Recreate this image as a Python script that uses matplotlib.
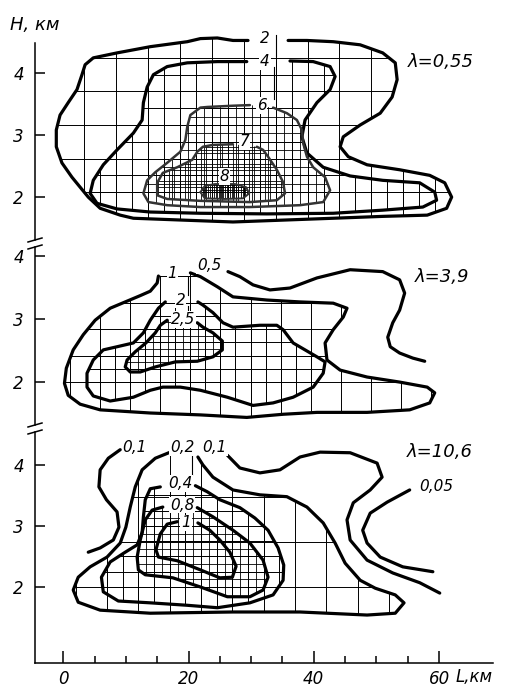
import numpy as np
import matplotlib.pyplot as plt
from matplotlib.patches import Polygon

plt.rcParams['font.family'] = 'DejaVu Sans'
plt.rcParams['font.style'] = 'italic'

# contour lines, (L km, H km)
# panel 1, lambda = 0.55
p1_c2 = [(29.5, 4.52), (27.1, 4.52), (24.6, 4.56), (21.9, 4.55), (19.8, 4.50), (13.9, 4.42),
         (8.6, 4.32), (4.8, 4.24), (3.5, 4.13), (3.0, 3.97), (2.2, 3.73), (0.8, 3.52),
         (-0.5, 3.32), (-1.1, 3.08), (-1.1, 2.81), (-0.2, 2.55), (1.4, 2.32), (2.7, 2.16),
         (4.0, 2.00), (5.9, 1.82), (9.1, 1.71), (11.2, 1.66), (19.1, 1.63), (27.1, 1.60),
         (35.1, 1.63), (43.1, 1.66), (51.0, 1.69), (58.1, 1.71), (61.2, 1.82), (62.0, 2.00),
         (60.9, 2.23), (58.5, 2.35), (53.7, 2.44), (48.5, 2.52), (45.5, 2.65), (44.2, 2.81),
         (44.7, 2.97), (47.4, 3.16), (50.6, 3.35), (52.5, 3.61), (53.3, 3.89), (53.0, 4.16),
         (51.0, 4.32), (47.4, 4.45), (43.1, 4.50), (38.9, 4.52), (35.9, 4.52)]
p1_c4 = [(29.3, 4.18), (24.6, 4.18), (19.8, 4.16), (16.6, 4.10), (14.4, 3.97), (13.4, 3.77),
         (12.8, 3.52), (12.6, 3.24), (11.2, 3.03), (8.6, 2.76), (6.4, 2.52), (4.8, 2.27),
         (4.3, 2.06), (5.4, 1.90), (8.6, 1.81), (13.9, 1.76), (21.9, 1.74), (32.5, 1.73),
         (43.1, 1.74), (51.0, 1.79), (57.4, 1.84), (59.6, 1.95), (59.3, 2.08), (56.9, 2.23),
         (51.0, 2.27), (45.8, 2.34), (41.5, 2.48), (38.9, 2.71), (38.1, 2.97), (38.6, 3.24),
         (40.5, 3.52), (42.6, 3.73), (43.4, 3.94), (42.6, 4.10), (39.9, 4.18), (36.2, 4.19)]
p1_c6 = [(29.8, 3.48), (27.1, 3.47), (23.0, 3.45), (21.9, 3.44), (20.3, 3.32), (19.8, 3.13),
         (19.5, 2.92), (18.7, 2.73), (16.7, 2.56), (14.7, 2.40), (13.4, 2.27), (12.8, 2.06),
         (13.6, 1.92), (16.6, 1.87), (21.9, 1.84), (29.8, 1.84), (37.8, 1.87), (41.5, 1.92),
         (42.6, 2.11), (41.8, 2.32), (39.9, 2.48), (38.9, 2.65), (38.3, 2.87), (38.1, 3.08),
         (37.3, 3.24), (35.7, 3.35), (33.5, 3.44)]
p1_c7 = [(27.1, 2.85), (23.9, 2.84), (22.3, 2.81), (21.4, 2.73), (20.6, 2.60), (18.2, 2.48),
         (15.9, 2.39), (15.0, 2.23), (15.0, 2.03), (16.6, 1.97), (21.9, 1.94), (29.8, 1.92),
         (34.1, 1.95), (35.4, 2.06), (35.1, 2.24), (34.1, 2.44), (32.7, 2.65), (31.9, 2.76),
         (30.9, 2.81)]
p1_c8 = [(21.9, 2.08), (22.6, 2.18), (24.2, 2.21), (27.4, 2.21), (29.2, 2.16), (29.7, 2.06),
         (28.7, 1.98), (25.8, 1.97), (22.6, 1.98), (21.9, 2.08)]

# panel 2, lambda = 3.9
p2_c1 = [(15.2, 3.68), (15.0, 3.57), (13.9, 3.44), (12.3, 3.37), (9.9, 3.27), (7.5, 3.17),
         (5.1, 2.98), (3.2, 2.75), (1.6, 2.51), (0.5, 2.22), (0.2, 1.98), (0.8, 1.79),
         (2.7, 1.65), (5.9, 1.56), (13.9, 1.51), (21.9, 1.48), (29.3, 1.44), (35.1, 1.49),
         (40.5, 1.52), (48.5, 1.52), (55.3, 1.56), (58.5, 1.67), (59.3, 1.83), (58.1, 1.92),
         (53.7, 2.00), (48.5, 2.08), (44.2, 2.19), (42.1, 2.35), (41.8, 2.62), (43.1, 2.83),
         (44.7, 3.03), (45.3, 3.17), (43.1, 3.25), (37.8, 3.27), (32.5, 3.30), (27.1, 3.35),
         (24.6, 3.51), (21.9, 3.67), (20.3, 3.73)]
p2_c05 = [(26.3, 3.75), (28.2, 3.67), (30.3, 3.54), (33.0, 3.46), (36.2, 3.49), (40.5, 3.65),
          (45.8, 3.78), (51.0, 3.75), (53.7, 3.62), (54.5, 3.41), (53.7, 3.14), (52.6, 2.94),
          (51.8, 2.71), (52.2, 2.56), (53.7, 2.46), (55.8, 2.38), (57.7, 2.33)]
p2_c2 = [(16.3, 3.27), (15.2, 3.17), (13.9, 2.98), (12.8, 2.78), (11.2, 2.62), (8.6, 2.56),
         (6.4, 2.51), (4.8, 2.35), (3.8, 2.14), (3.8, 1.92), (4.8, 1.78), (7.5, 1.70),
         (11.2, 1.76), (13.9, 1.87), (15.9, 1.92), (18.7, 1.92), (21.9, 1.87), (26.2, 1.76),
         (30.3, 1.63), (33.5, 1.67), (36.7, 1.76), (39.9, 1.92), (41.5, 2.14), (41.8, 2.32),
         (40.5, 2.40), (36.7, 2.62), (35.1, 2.83), (34.1, 2.90), (31.4, 2.90), (27.1, 2.87),
         (25.5, 2.94), (23.9, 3.10), (22.3, 3.22), (21.5, 3.27)]
p2_c25 = [(16.6, 2.98), (15.5, 2.90), (14.7, 2.78), (13.2, 2.62), (11.5, 2.48), (10.2, 2.35),
          (9.9, 2.24), (10.7, 2.16), (12.3, 2.16), (14.7, 2.24), (17.9, 2.32), (21.4, 2.33),
          (23.9, 2.40), (25.4, 2.51), (25.4, 2.65), (23.9, 2.78), (22.3, 2.87), (21.4, 2.94)]

# panel 3, lambda = 10.6
p3_c01a = [(9.1, 4.25), (7.2, 4.11), (5.9, 3.92), (5.7, 3.64), (6.9, 3.43), (8.6, 3.23),
           (8.9, 2.98), (8.0, 2.77), (5.9, 2.64), (4.0, 2.57)]
p3_c01b = [(26.2, 4.16), (28.2, 3.95), (31.4, 3.87), (34.6, 3.92), (37.8, 4.13), (41.0, 4.21),
           (45.8, 4.20), (50.1, 4.03), (50.9, 3.80), (49.0, 3.59), (46.3, 3.38), (45.3, 3.10),
           (45.8, 2.77), (48.5, 2.44), (52.6, 2.23), (56.9, 2.07), (60.1, 1.90)]
p3_c005 = [(55.3, 3.59), (51.7, 3.39), (49.0, 3.21), (47.8, 2.93), (48.5, 2.72), (50.6, 2.49),
           (54.2, 2.33), (59.0, 2.25)]
p3_c02 = [(17.1, 4.21), (14.7, 4.11), (12.6, 3.92), (11.5, 3.64), (10.7, 3.31), (10.0, 2.98),
          (9.1, 2.72), (7.0, 2.49), (4.3, 2.33), (2.4, 2.16), (1.6, 1.95), (2.4, 1.75),
          (5.9, 1.62), (13.9, 1.57), (27.1, 1.59), (37.8, 1.59), (48.5, 1.54), (53.0, 1.57),
          (54.4, 1.74), (53.0, 1.87), (49.8, 1.98), (47.4, 2.11), (45.0, 2.39), (43.4, 2.72),
          (41.5, 3.05), (38.9, 3.31), (35.7, 3.48), (31.4, 3.51), (27.1, 3.59), (23.9, 3.80),
          (22.3, 4.00), (21.5, 4.13)]
p3_c04 = [(15.5, 3.64), (13.9, 3.61), (13.1, 3.43), (12.8, 3.15), (12.6, 2.89), (11.8, 2.69),
          (9.9, 2.57), (7.5, 2.41), (6.1, 2.16), (6.4, 1.92), (8.8, 1.77), (13.9, 1.74),
          (19.8, 1.70), (24.6, 1.66), (29.8, 1.74), (33.5, 1.87), (35.1, 2.11), (35.2, 2.36),
          (34.3, 2.64), (32.7, 2.93), (30.6, 3.13), (28.2, 3.30), (25.0, 3.43), (23.0, 3.56),
          (21.1, 3.66)]
p3_c08 = [(15.9, 3.31), (14.2, 3.26), (13.1, 3.10), (12.3, 2.77), (11.8, 2.49), (12.0, 2.28),
          (13.1, 2.20), (17.5, 2.15), (21.9, 2.00), (26.2, 1.84), (29.8, 1.84), (31.9, 1.95),
          (32.7, 2.16), (31.9, 2.44), (29.8, 2.72), (27.1, 2.93), (23.9, 3.15), (21.4, 3.30)]
p3_c1 = [(18.2, 3.07), (16.6, 3.03), (15.5, 2.87), (14.8, 2.61), (15.2, 2.49), (18.2, 2.43),
         (21.9, 2.28), (25.0, 2.15), (27.0, 2.16), (27.6, 2.34), (26.6, 2.57), (25.0, 2.77),
         (23.4, 2.93), (21.5, 3.05)]

# contour labels: (text, L, H)
p1_labels = [('2', 32.2, 4.55), ('4', 32.2, 4.18), ('6', 31.7, 3.47), ('7', 28.9, 2.89), ('8', 25.8, 2.33)]
p2_labels = [('1', 17.4, 3.72), ('0,5', 23.3, 3.85), ('2', 18.7, 3.30), ('2,5', 19.2, 2.99)]
p3_labels = [('0,1', 11.4, 4.28), ('0,2', 19.0, 4.28), ('0,1', 24.2, 4.28), ('0,4', 18.7, 3.70),
             ('0,8', 19.0, 3.34), ('1', 19.6, 3.05), ('0,05', 59.5, 3.64)]
lambdas = ['λ=0,55', 'λ=3,9', 'λ=10,6']
lam_pos = [(60.3, 4.18), (60.4, 3.67), (60.1, 4.21)]

fig = plt.figure(figsize=(5.07, 6.91), dpi=100)
W, Hf = 507.0, 691.0
x0px, x1px = 35, 493
xlim = (-4.5, 68.6)
# (top px, bottom px, ylim, spine top)
panels = [(33, 240, (1.31, 4.64), 4.48), (247, 425, (1.32, 4.14), 4.14),
          (432, 663, (0.754, 4.54), 4.54)]
axes = []
for top, bot, yl, stop in panels:
    ax = fig.add_axes([x0px / W, 1 - bot / Hf, (x1px - x0px) / W, (bot - top) / Hf])
    ax.set_xlim(*xlim)
    ax.set_ylim(*yl)
    for s in ['top', 'right', 'bottom']:
        ax.spines[s].set_visible(False)
    ax.spines['left'].set_linewidth(1.1)
    ax.spines['left'].set_bounds(yl[0], stop)
    ax.set_yticks([2, 3, 4])
    ax.set_yticklabels(['2', '3', '4'])
    ax.tick_params(axis='y', direction='in', length=7, width=1.1, labelsize=12, pad=8)
    ax.tick_params(axis='x', bottom=False, labelbottom=False)
    axes.append(ax)
ax1, ax2, ax3 = axes

ax3.spines['bottom'].set_visible(True)
ax3.spines['bottom'].set_linewidth(1.1)
ax3.set_xticks([0, 20, 40, 60])
ax3.set_xticklabels(['0', '20', '40', '60'])
ax3.set_xticks(np.arange(5, 60, 5), minor=True)
ax3.tick_params(axis='x', which='major', bottom=True, labelbottom=True, direction='in',
                length=9, width=1.1, labelsize=12, pad=5)
ax3.tick_params(axis='x', which='minor', bottom=True, direction='in', length=5, width=1.1)
ax3.text(62.6, -0.062, 'L,км', transform=ax3.get_xaxis_transform(), fontsize=12,
         ha='left', va='center')
fig.text(10 / W, 1 - 25 / Hf, 'H, км', fontsize=13, ha='left', va='center')

# axis break marks
for ax, (top, bot, yl, stop) in zip(axes, panels):
    tr = ax.get_yaxis_transform()
    h = (bot - top) / (yl[1] - yl[0])  # px per km
    w = x1px - x0px
    xs = [-7 / w, 7 / w]
    if ax is not ax1:
        ax.plot(xs, [stop - 2 / h, stop + 2 / h], transform=tr, color='k', lw=1.1, clip_on=False)
    if ax is not ax3:
        ax.plot(xs, [yl[0] - 2 / h, yl[0] + 2 / h], transform=tr, color='k', lw=1.1, clip_on=False)


def hatch(ax, pts, dx, dy, gx, gy, lw=0.7):
    poly = Polygon(pts, closed=True, fill=False, edgecolor='none')
    ax.add_patch(poly)
    xs = np.arange(gx, 70, dx)
    ys = np.arange(gy, 5, dy)
    v = ax.vlines(xs, 0, 5, colors='k', lw=lw)
    hl = ax.hlines(ys, -5, 70, colors='k', lw=lw)
    v.set_clip_path(poly)
    hl.set_clip_path(poly)


def line(ax, pts, lw=2.3, color='k'):
    a = np.array(pts)
    ax.plot(a[:, 0], a[:, 1], color=color, lw=lw, solid_capstyle='round',
            solid_joinstyle='round')


# panel 1
hatch(ax1, p1_c2, 5.1, 0.54, -1.8, 2.08)
hatch(ax1, p1_c4, 2.55, 0.27, -1.8, 2.08)
hatch(ax1, p1_c6, 1.275, 0.135, -1.8, 2.08, lw=0.6)
hatch(ax1, p1_c7, 0.85, 0.09, -1.8, 2.08, lw=0.6)
hatch(ax1, p1_c8, 0.35, 0.04, -1.8, 2.08, lw=0.6)
line(ax1, p1_c2)
line(ax1, p1_c4)
line(ax1, p1_c6, lw=1.8, color='#333333')
line(ax1, p1_c7, lw=1.8, color='#333333')
line(ax1, p1_c8, lw=1.4, color='#333333')
ax1.plot([34.0, 34.0], [4.6, 4.27], color='k', lw=0.8)
ax1.plot([33.6, 33.6], [4.10, 3.58], color='k', lw=0.8)

# panel 2
hatch(ax2, p2_c1, 4.8, 0.42, 1.1, 2.0)
hatch(ax2, p2_c2, 2.4, 0.21, 1.1, 2.0)
hatch(ax2, p2_c25, 1.2, 0.105, 1.1, 2.0, lw=0.6)
line(ax2, p2_c1)
line(ax2, p2_c05)
line(ax2, p2_c2)
line(ax2, p2_c25)
ax2.plot([19.9, 19.9], [3.66, 3.38], color='k', lw=0.8)
ax2.plot([19.9, 19.9], [3.20, 3.06], color='k', lw=0.8)

# panel 3
hatch(ax3, p3_c02, 5.0, 0.74, 2.0, 2.0)
hatch(ax3, p3_c04, 2.5, 0.25, 2.0, 2.0)
hatch(ax3, p3_c08, 1.25, 0.125, 2.0, 2.0, lw=0.6)
line(ax3, p3_c01a)
line(ax3, p3_c01b)
line(ax3, p3_c005)
line(ax3, p3_c02)
line(ax3, p3_c04)
line(ax3, p3_c08)
line(ax3, p3_c1)
ax3.plot([20.6, 20.6], [4.16, 3.84], color='k', lw=0.8)

for ax, labs in zip(axes, [p1_labels, p2_labels, p3_labels]):
    for t, L, H in labs:
        ax.text(L, H, t, fontsize=11, ha='center', va='center',
                bbox=dict(boxstyle='square,pad=0.05', fc='white', ec='none'))

for ax, lab, (L, H) in zip(axes, lambdas, lam_pos):
    ax.text(L, H, lab, fontsize=13, ha='center', va='center')

fig.savefig('out.png', dpi=100)
